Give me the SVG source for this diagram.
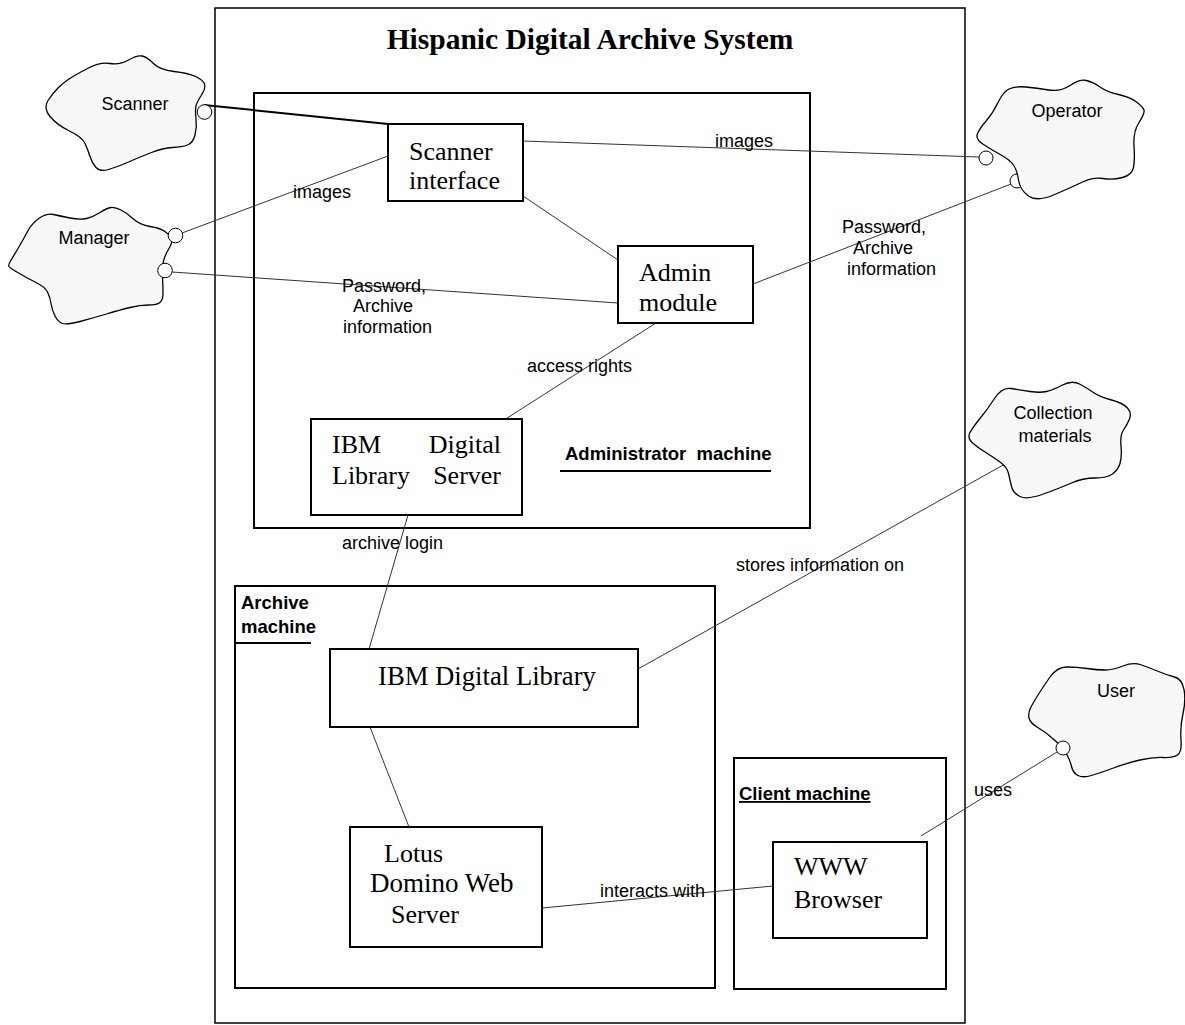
<svg xmlns="http://www.w3.org/2000/svg" width="1185" height="1025" viewBox="0 0 1185 1025">
<style>
.box{fill:#fff;stroke:#000;stroke-width:2}
.sys{fill:#fff;stroke:#000;stroke-width:1.5}
.cloud{fill:#f8f8f8;stroke:#000;stroke-width:1.3}
.port{fill:#fff;stroke:#000;stroke-width:1}
.conn{stroke:#333;stroke-width:1;fill:none}
.thick{stroke:#000;stroke-width:2;fill:none}
.ul{stroke:#000;stroke-width:2}
.node{font-family:"Liberation Serif","Times New Roman",serif;font-size:26px;fill:#000}
.sans{font-family:"Liberation Sans",Arial,sans-serif;font-size:18px;fill:#000}
.bold{font-family:"Liberation Sans",Arial,sans-serif;font-size:18.5px;font-weight:bold;fill:#000;white-space:pre}
.title{font-family:"Liberation Serif","Times New Roman",serif;font-size:29.5px;font-weight:bold;fill:#000}
</style>
<rect width="1185" height="1025" fill="#fff"/>

<g id="system">
<rect class="sys" x="215" y="8" width="750" height="1015"/>
<text class="title" x="590" y="49" text-anchor="middle">Hispanic Digital Archive System</text>
</g>

<g id="administrator-machine">
<rect class="box" x="254" y="93" width="556" height="435"/>
<text class="bold" x="565" y="460">Administrator  machine</text>
<line class="ul" x1="560" y1="471" x2="771" y2="471"/>
</g>

<g id="archive-machine">
<rect class="box" x="235" y="586" width="480" height="402"/>
<text class="bold" x="241" y="609">Archive</text>
<text class="bold" x="241" y="633">machine</text>
<line class="ul" x1="235" y1="643" x2="311" y2="643"/>
</g>

<g id="client-machine">
<rect class="box" x="734" y="758" width="212" height="231"/>
<text class="bold" x="739" y="800" text-decoration="underline">Client machine</text>
</g>

<g id="connectors">
<line class="thick" x1="204" y1="105" x2="388" y2="124"/>
<line class="conn" x1="182" y1="233" x2="388" y2="156"/>
<line class="conn" x1="172" y1="272" x2="618" y2="303"/>
<line class="conn" x1="523" y1="141" x2="979" y2="157"/>
<line class="conn" x1="523" y1="196" x2="618" y2="260"/>
<line class="conn" x1="753" y1="284" x2="1011" y2="184"/>
<line class="conn" x1="656" y1="323" x2="504" y2="420"/>
<line class="conn" x1="408" y1="515" x2="369" y2="649"/>
<line class="conn" x1="638" y1="669" x2="1005" y2="464"/>
<line class="conn" x1="370" y1="727" x2="409" y2="827"/>
<line class="conn" x1="542" y1="908" x2="773" y2="886"/>
<line class="conn" x1="921" y1="836" x2="1057" y2="752"/>
<text class="sans" x="293" y="198">images</text>
<text class="sans" x="715" y="147">images</text>
<text class="sans" x="342" y="292">Password,</text>
<text class="sans" x="353" y="312">Archive</text>
<text class="sans" x="343" y="333">information</text>
<text class="sans" x="842" y="233">Password,</text>
<text class="sans" x="853" y="254">Archive</text>
<text class="sans" x="847" y="275">information</text>
<text class="sans" x="527" y="372">access rights</text>
<text class="sans" x="342" y="549">archive login</text>
<text class="sans" x="736" y="571">stores information on</text>
<text class="sans" x="600" y="897">interacts with</text>
<text class="sans" x="974" y="796">uses</text>
</g>

<g id="scanner-interface">
<rect class="box" x="388" y="124" width="135" height="77"/>
<text class="node" x="409" y="160">Scanner</text>
<text class="node" x="409" y="189">interface</text>
</g>

<g id="admin-module">
<rect class="box" x="618" y="246" width="135" height="77"/>
<text class="node" x="639" y="281">Admin</text>
<text class="node" x="639" y="311">module</text>
</g>

<g id="ibm-digital-library-server">
<rect class="box" x="311" y="419" width="211" height="96"/>
<text class="node" x="332" y="453">IBM</text>
<text class="node" x="501" y="453" text-anchor="end">Digital</text>
<text class="node" x="332" y="484">Library</text>
<text class="node" x="501" y="484" text-anchor="end">Server</text>
</g>

<g id="ibm-digital-library">
<rect class="box" x="330" y="649" width="308" height="78"/>
<text class="node" x="378" y="685" style="font-size:26.7px">IBM Digital Library</text>
</g>

<g id="lotus-domino">
<rect class="box" x="350" y="827" width="192" height="120"/>
<text class="node" x="384" y="862">Lotus</text>
<text class="node" x="370" y="892" style="font-size:27px">Domino Web</text>
<text class="node" x="391" y="923">Server</text>
</g>

<g id="www-browser">
<rect class="box" x="773" y="842" width="154" height="96"/>
<text class="node" x="794" y="875">WWW</text>
<text class="node" x="794" y="908">Browser</text>
</g>

<g id="scanner">
<path class="cloud" d="M 87.5,68.5 Q 100,62 110,63.5 Q 120,65 128.5,60 Q 137,55 142,56 Q 147,57 153.5,63.5 Q 160,70 174,71.5 Q 188,73 195.5,76.5 Q 203,80 204.5,84 Q 206,88 201.5,95 Q 197,102 196,106 Q 195,110 196,118.5 Q 197,127 195,135 Q 193,143 187.5,145 Q 182,147 172.5,147.5 Q 163,148 151.5,152.5 Q 140,157 128.5,162 Q 117,167 108.5,169.5 Q 100,172 96,167.5 Q 92,163 90,156.5 Q 88,150 85,143.5 Q 82,137 69.5,131 Q 57,125 50,116.5 Q 43,108 48,100.5 Q 53,93 58,88 Q 63,83 69,79 Q 75,75 87.5,68.5 Z"/>
<circle class="port" cx="204.5" cy="112" r="7.3"/>
<text class="sans" x="135" y="110" text-anchor="middle">Scanner</text>
</g>

<g id="manager">
<path class="cloud" d="M 39.5,218 Q 47,213 53.5,214.5 Q 60,216 70,218 Q 80,220 86.5,218.5 Q 93,217 100,212.5 Q 107,208 111,207.5 Q 115,207 121,210 Q 127,213 133.5,219 Q 140,225 150,226.5 Q 160,228 165,231.5 Q 170,235 171.5,238.5 Q 173,242 169,248.5 Q 165,255 163.5,261 Q 162,267 162.5,277 Q 163,287 163,293.5 Q 163,300 160,302.5 Q 157,305 148.5,305 Q 140,305 130,307.5 Q 120,310 106.5,314 Q 93,318 80,321.5 Q 67,325 62.5,323.5 Q 58,322 55,316 Q 52,310 51,303.5 Q 50,297 47.5,292 Q 45,287 36,282.5 Q 27,278 18.5,273 Q 10,268 9,266.5 Q 8,265 10.5,261 Q 13,257 18,248.5 Q 23,240 27.5,231.5 Q 32,223 39.5,218 Z"/>
<circle class="port" cx="175.5" cy="235.5" r="7.3"/>
<circle class="port" cx="165" cy="270.5" r="7.3"/>
<text class="sans" x="94" y="244" text-anchor="middle">Manager</text>
</g>

<g id="operator">
<circle class="port" cx="1017" cy="181" r="7"/>
<path class="cloud" d="M 1009,89 Q 1015,86 1026,87 Q 1037,88 1048.5,90 Q 1060,92 1070,85.5 Q 1080,79 1086.5,80.5 Q 1093,82 1100,87 Q 1107,92 1118.5,94.5 Q 1130,97 1136.5,102 Q 1143,107 1144,110 Q 1145,113 1139,122.5 Q 1133,132 1134,146 Q 1135,160 1133.5,167.5 Q 1132,175 1122.5,177.5 Q 1113,180 1103,178.5 Q 1093,177 1081.5,182.5 Q 1070,188 1053.5,195 Q 1037,202 1028.5,196 Q 1020,190 1018.5,180 Q 1017,170 1013.5,165 Q 1010,160 1001,155 Q 992,150 983.5,144.5 Q 975,139 977.5,133.5 Q 980,128 986.5,120.5 Q 993,113 998,102.5 Q 1003,92 1009,89 Z"/>
<circle class="port" cx="986" cy="158" r="7"/>
<text class="sans" x="1067" y="117" text-anchor="middle">Operator</text>
</g>

<g id="collection-materials">
<path class="cloud" d="M 1011,388.5 Q 1020,390 1030,391.5 Q 1040,393 1046.5,391.5 Q 1053,390 1062.5,385 Q 1072,380 1079.5,384 Q 1087,388 1093.5,392.5 Q 1100,397 1111.5,400 Q 1123,403 1127.5,408 Q 1132,413 1129.5,419 Q 1127,425 1123.5,430 Q 1120,435 1121,446 Q 1122,457 1120,463.5 Q 1118,470 1112.5,474 Q 1107,478 1095,478 Q 1083,478 1071.5,483 Q 1060,488 1043.5,494 Q 1027,500 1020,496.5 Q 1013,493 1011.5,486.5 Q 1010,480 1008.5,473.5 Q 1007,467 1000,462 Q 993,457 985,452 Q 977,447 972,442.5 Q 967,438 970,432.5 Q 973,427 980,418.5 Q 987,410 994.5,398.5 Q 1002,387 1011,388.5 Z"/>
<text class="sans" x="1053" y="419" text-anchor="middle">Collection</text>
<text class="sans" x="1055" y="442" text-anchor="middle">materials</text>
</g>

<g id="user">
<path class="cloud" d="M 1067,667 Q 1077,667 1087,668.5 Q 1097,670 1105,670 Q 1113,670 1123,666 Q 1133,662 1141.5,665 Q 1150,668 1158.5,671.5 Q 1167,675 1174.5,677 Q 1182,679 1184,689.5 Q 1186,700 1183,713.5 Q 1180,727 1181,739.5 Q 1182,752 1177.5,755 Q 1173,758 1163,757.5 Q 1153,757 1140,760 Q 1127,763 1113.5,768 Q 1100,773 1091.5,775.5 Q 1083,778 1078,775.5 Q 1073,773 1071.5,766.5 Q 1070,760 1066.5,754 Q 1063,748 1055,740.5 Q 1047,733 1038.5,728 Q 1030,723 1029,718 Q 1028,713 1030.5,708 Q 1033,703 1038,695 Q 1043,687 1050,677 Q 1057,667 1067,667 Z"/>
<circle class="port" cx="1063" cy="748" r="7"/>
<text class="sans" x="1116" y="697" text-anchor="middle">User</text>
</g>
</svg>
